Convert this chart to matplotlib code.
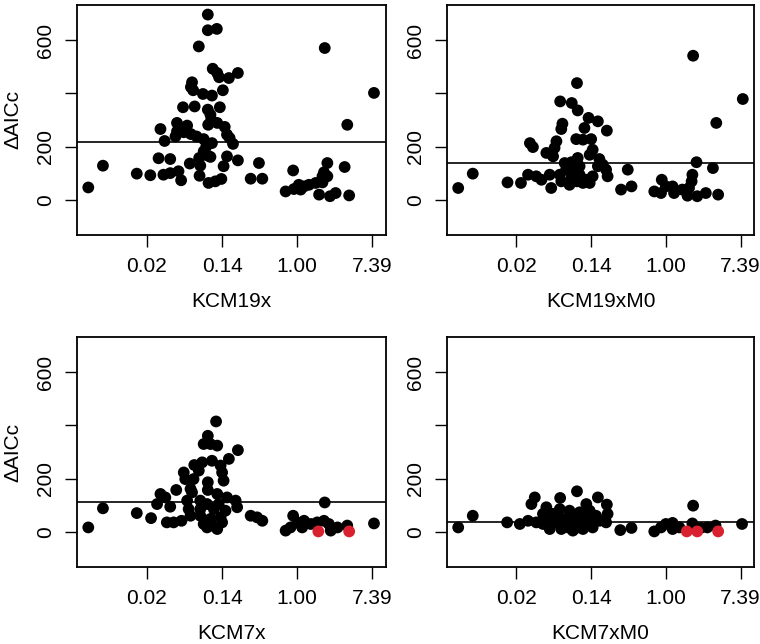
import numpy as np
import matplotlib
matplotlib.use("Agg")
from matplotlib import pyplot as plt

plt.rcParams['font.family'] = ['Liberation Sans', 'DejaVu Sans']

# x values are log(K), y values are delta AICc
kcm19x_x = [-5.56, -5.17, -4.27, -3.91, -3.56, -3.38, -3.16, -3.09, -3.69, -3.38,
            -3.64, -3.53, -3.24, -3.20, -3.20, -3.04, -3.02, -2.93, -2.86, -2.83,
            -2.83, -2.80, -2.77, -2.73, -2.68, -2.62, -2.61, -2.60, -2.58, -2.51,
            -2.49, -2.49, -2.42, -2.38, -2.38, -2.38, -2.38, -2.37, -2.36, -2.31,
            -2.31, -2.29, -2.27, -2.27, -2.25, -2.18, -2.14, -2.13, -2.13, -2.08,
            -2.06, -2.02, -1.98, -1.96, -1.93, -1.87, -1.87, -1.82, -1.80, -1.71,
            -1.58, -1.58, -1.24, -0.93, -1.02,
            0.73, 2.04, 1.33, 0.80, 1.26, -0.11, 0.71, 0.67, 0.80, -0.31,
            -0.09, 0.04, 0.18, 0.31, 0.49, 0.67, 0.58, 0.87, 1.02, 1.38, 0.09]
kcm19x_y = [46, 128, 98, 92, 94, 100, 107, 73, 156, 153,
            266, 221, 238, 289, 257, 348, 254, 279, 136, 247,
            424, 442, 412, 351, 238, 577, 157, 90, 128, 398,
            228, 182, 201, 697, 638, 339, 166, 282, 63, 320,
            161, 301, 392, 213, 493, 69, 643, 477, 289, 461,
            348, 78, 412, 126, 274, 245, 163, 458, 232, 210,
            477, 148, 79, 79, 138,
            571, 402, 282, 138, 123, 110, 103, 88, 88, 31,
            40, 56, 50, 56, 63, 65, 19, 13, 25, 16, 38]

kcm19xm0_x = [-5.56, -5.17, -4.24, -3.88,
              -2.38, -2.83, -2.52, -2.36, -2.77, -2.80, -2.07, -1.82, -1.58, -2.18,
              -2.40, -2.22, -2.00, -3.64, -3.56, -2.93, -2.98, -3.20, -3.02, -1.96,
              -2.04, -2.36, -2.53, -1.78, -1.69, -1.60, -1.56, -1.82, -2.71, -3.69,
              -3.47, -3.33, -3.11, -2.84, -2.67, -2.49, -2.31, -2.31, -2.53, -2.38,
              -2.13, -1.96, -2.04, -2.22, -2.58, -3.07, -2.80, -1.02, -1.20, -0.92,
              0.73, 2.06, 1.35, 0.82, 1.26, 0.71, 0.69, -0.11, -0.31, 0.00,
              0.18, 0.22, 0.44, 0.62, 0.58, 0.84, 1.07, 1.40, -0.13]
kcm19xm0_y = [44, 98, 65, 63,
              439, 370, 364, 336, 286, 266, 308, 295, 260, 270,
              228, 226, 228, 213, 198, 220, 195, 176, 163, 188,
              169, 157, 141, 153, 132, 113, 88, 126, 138, 94,
              88, 75, 94, 94, 113, 113, 126, 94, 82, 69,
              75, 88, 63, 63, 56, 44, 69, 113, 38, 50,
              542, 379, 289, 141, 119, 94, 69, 75, 31, 50,
              50, 25, 38, 44, 15, 13, 25, 19, 25]

kcm7x_x = [-5.56, -5.17, -4.27, -3.89,
           -2.16, -2.38, -2.49, -2.31, -2.13, -1.58, -1.82, -2.53, -2.27, -2.74,
           -2.04, -3.02, -2.62, -2.00, -1.96, -2.98, -2.76, -2.38, -3.22, -2.84,
           -2.38, -3.64, -3.51, -2.80, -2.13, -1.87, -1.64, -3.73, -3.38, -2.93,
           -2.58, -2.40, -2.09, -1.60, -2.89, -2.58, -2.22, -1.91, -3.47, -3.29,
           -3.08, -2.84, -2.58, -2.31, -2.04, -2.49, -2.27, -2.00, -2.13, -2.40,
           -1.24, -1.07, -0.93,
           0.73, -0.11, -0.31, -0.18, 0.00, 0.18, 0.13, 0.36, 0.53, 0.71,
           0.84, 0.89, 1.07, 1.33, 2.04]
kcm7x_y = [16, 88, 70, 51,
           415, 361, 330, 330, 324, 307, 274, 261, 267, 251,
           249, 223, 230, 223, 192, 198, 198, 186, 157, 161,
           157, 142, 129, 148, 142, 129, 117, 104, 94, 117,
           117, 104, 104, 92, 85, 85, 85, 79, 35, 35,
           41, 60, 60, 48, 54, 29, 23, 35, 10, 16,
           60, 54, 41,
           110, 60, 4, 16, 35, 41, 16, 29, 35, 41,
           29, 4, 16, 23, 31]
kcm7x_red_x = [0.56, 1.38]
kcm7x_red_y = [1, 1]

kcm7xm0_x = [-5.56, -5.17, -4.25, -3.91,
             -2.38, -2.83, -3.51, -3.60, -1.82, -1.58, -2.13, -3.20, -2.84, -2.58,
             -2.31, -2.04, -3.02, -3.29, -1.87, -1.56, -3.69, -3.47, -3.29, -3.11,
             -2.93, -2.76, -2.58, -2.40, -2.22, -2.04, -1.78, -1.60, -3.11, -2.80,
             -2.49, -2.22, -1.96, -2.62, -2.36, -1.22, -0.92,
             0.73, -0.31, -0.13, 0.00, 0.18, 0.18, 0.36, 0.71, 0.93, 1.11,
             1.33, 2.04]
kcm7xm0_y = [16, 60, 35, 29,
             152, 127, 129, 104, 129, 102, 104, 92, 85, 79,
             73, 79, 67, 67, 60, 67, 41, 35, 29, 48,
             35, 48, 41, 54, 48, 41, 41, 35, 10, 10,
             4, 10, 16, 16, 16, 6, 14,
             98, 1, 16, 29, 33, 10, 16, 31, 14, 16,
             23, 29]
kcm7xm0_red_x = [0.56, 0.84, 1.40]
kcm7xm0_red_y = [1, 1, 1]

model_names = ['KCM19x', 'KCM19xM0', 'KCM7x', 'KCM7xM0']
ref_lines = [216, 138, 110, 38]
x_ticks = [-4, -2, 0, 2]
y_ticks = [0, 200, 400, 600]
y_tick_labels = ['0', '200', '', '600']

panels = [
    (kcm19x_x, kcm19x_y, [], []),
    (kcm19xm0_x, kcm19xm0_y, [], []),
    (kcm7x_x, kcm7x_y, kcm7x_red_x, kcm7x_red_y),
    (kcm7xm0_x, kcm7xm0_y, kcm7xm0_red_x, kcm7xm0_red_y),
]

fig = plt.figure(figsize=(7.6, 6.44), dpi=100)
W, H = 760.0, 644.0
boxes = [(77, 5, 386, 235), (447, 5, 754, 235),
         (77, 337, 386, 567), (447, 337, 754, 567)]

for i, (px, py, rx, ry) in enumerate(panels):
    l, t, r, b = boxes[i]
    ax = fig.add_axes([l / W, 1 - b / H, (r - l) / W, (b - t) / H])
    ax.scatter(px, py, s=72, color='black', edgecolors='none', zorder=3)
    if rx:
        ax.scatter(rx, ry, s=72, color='#d8202e', edgecolors='none', zorder=4)
    ax.axhline(ref_lines[i], color='black', lw=1.2, zorder=2)
    ax.set_xlim(-5.86, 2.36)
    ax.set_ylim(-133, 733)
    ax.set_xticks(x_ticks)
    ax.set_xticklabels(['%.2f' % np.exp(v) for v in x_ticks])
    ax.set_yticks(y_ticks)
    ax.set_yticklabels(y_tick_labels, rotation=90, va='center')
    ax.tick_params(axis='both', labelsize=15, length=8.5, width=1.0, pad=7)
    for sp in ax.spines.values():
        sp.set_linewidth(1.3)
    ax.set_xlabel(model_names[i], fontsize=15, labelpad=12)
    if i % 2 == 0:
        ax.set_ylabel('ΔAICc', fontsize=15, labelpad=10)

plt.savefig('out.png', dpi=100)
